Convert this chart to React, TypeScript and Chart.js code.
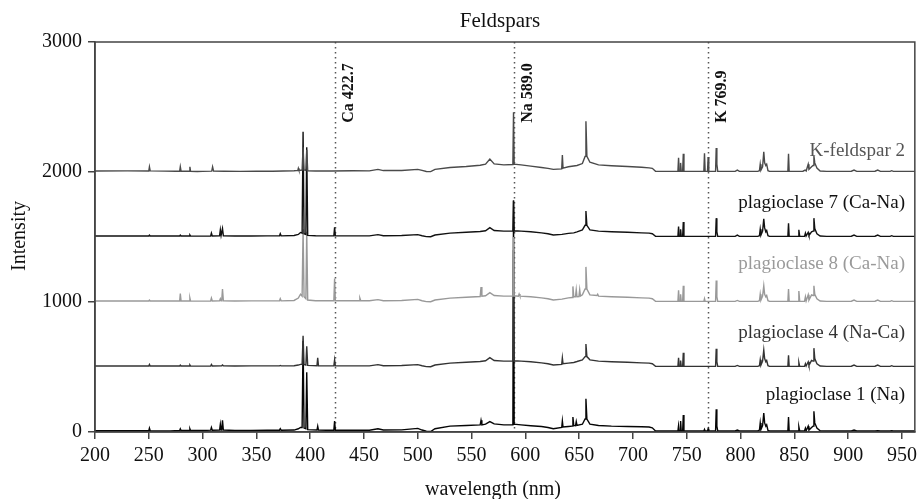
import React, { useEffect, useRef } from 'react';
import { Chart, registerables } from 'chart.js';

Chart.register(...registerables);

// ---------- data ----------
const seriesNames = [
  'K-feldspar 2',
  'plagioclase 7 (Ca-Na)',
  'plagioclase 8 (Ca-Na)',
  'plagioclase 4 (Na-Ca)',
  'plagioclase 1 (Na)',
];
const seriesOffsets = [2000, 1500, 1000, 500, 0];

const xTicks = [200, 250, 300, 350, 400, 450, 500, 550, 600, 650, 700, 750, 800, 850, 900, 950];
const yTicks = [0, 1000, 2000, 3000];

const emissionLines = [422.7, 589.0, 769.9];
const emissionLabels = ['Ca 422.7', 'Na 589.0', 'K 769.9'];

// [wavelength nm, intensity above the series offset]
const kFeldspar2: [number, number][] = [
  [200, 8], [230, 9], [250, 8], [250.6, 40], [251.3, 9], [265, 7], [275, 6], [278.7, 6], [279.3, 40], [280, 6],
  [287.7, 6], [288.2, 40], [288.8, 6], [295, 4], [300, 5], [308.5, 7], [309.3, 40], [310.2, 7], [320, 6], [335, 5],
  [350, 7], [365, 6], [375, 8], [385, 10], [388.5, 12], [389, 28], [389.6, 12], [392.5, 15], [393.4, 190], [394.3, 15],
  [396, 12], [396.8, 170], [397.7, 10], [405, 8], [420, 8], [440, 10], [455, 9], [463, 20], [468, 11], [485, 12],
  [500, 20], [504, 12], [508, 4], [512, 3], [516, 20], [530, 35], [545, 42], [558, 52], [563, 60], [567, 100],
  [571, 62], [580, 55], [588.4, 58], [589, 460], [589.6, 60], [596, 55], [605, 45], [615, 35], [621, 28], [626, 20],
  [633.8, 24], [634.4, 130], [635, 30], [640, 40], [648, 50], [653, 65], [655.5, 120], [656.3, 390], [657.2, 120], [660, 75],
  [668, 55], [680, 48], [695, 42], [708, 37], [715, 32], [718, 28], [721, 5], [741.8, 5], [742.4, 110], [743, 5],
  [743.8, 5], [744.3, 70], [744.9, 5], [746.2, 5], [746.8, 140], [747.4, 5], [765.9, 5], [766.5, 145], [767.1, 5], [769.3, 5],
  [769.9, 115], [770.5, 5], [776.8, 5], [777.4, 185], [778, 60], [778.8, 5], [795, 5], [797, 15], [799, 5], [816, 5],
  [817.6, 10], [818.3, 60], [819, 15], [820.5, 40], [821.6, 155], [822.4, 70], [823.5, 50], [824.3, 60], [825.5, 10], [827, 5],
  [844, 5], [844.6, 140], [845.2, 5], [858, 6], [860, 15], [861, 8], [862.9, 60], [863.6, 20], [866, 40], [867.4, 50],
  [868.2, 125], [869, 70], [871, 30], [874, 8], [880, 5], [903, 6], [905.5, 15], [908, 5], [925, 6], [927.5, 15],
  [930, 5], [939, 5], [940.5, 10], [942, 5], [962, 5],
];

const plagioclase7: [number, number][] = [
  [200, 8], [250, 8], [250.6, 15], [251.3, 8], [278.7, 8], [279.3, 15], [280, 8], [287.7, 8], [288.2, 15], [288.8, 8],
  [300, 7], [307.5, 8], [308.2, 30], [309, 8], [315.8, 10], [316.5, 55], [317.2, 12], [317.8, 12], [318.5, 65], [319.3, 10],
  [330, 8], [345, 8], [360, 9], [371.5, 9], [372.2, 25], [373, 9], [385, 12], [389, 20], [391, 35], [392.5, 30],
  [393.4, 810], [394.3, 25], [396, 20], [396.8, 690], [397.7, 12], [405, 10], [422, 9], [422.7, 75], [423.4, 9], [440, 9],
  [455, 9], [463, 18], [468, 10], [485, 12], [500, 18], [504, 10], [508, 3], [512, 2], [516, 15], [530, 30],
  [545, 36], [558, 42], [563, 48], [567, 72], [571, 50], [580, 45], [588.4, 45], [589, 280], [589.6, 48], [596, 45],
  [605, 40], [615, 32], [621, 25], [626, 15], [634, 20], [640, 28], [645, 32], [648, 40], [653, 55], [655.5, 90],
  [656.3, 200], [657.2, 90], [660, 55], [668, 45], [680, 40], [695, 36], [708, 32], [715, 30], [718, 25], [721, 5],
  [741.8, 5], [742.4, 80], [743, 5], [743.8, 5], [744.3, 60], [744.9, 5], [746.2, 5], [746.8, 115], [747.4, 5], [776.8, 5],
  [777.4, 145], [778, 40], [778.8, 5], [795, 5], [797, 15], [799, 5], [816, 5], [817.6, 10], [818.3, 60], [819, 15],
  [820.5, 45], [821.6, 140], [822.4, 70], [823.5, 40], [824.3, 50], [825.5, 10], [827, 5], [844, 5], [844.6, 105], [845.2, 5],
  [853.5, 5], [854.2, 55], [855, 5], [859.5, 6], [860.3, 30], [861, 8], [862.9, 35], [863.6, 12], [866, 40], [867.4, 45],
  [868.2, 145], [869, 65], [871, 25], [874, 8], [880, 5], [903, 6], [905.5, 15], [908, 5], [925, 6], [927.5, 15],
  [930, 5], [939, 5], [940.5, 10], [942, 5], [962, 5],
];

const plagioclase8: [number, number][] = [
  [200, 8], [250, 8], [250.6, 15], [251.3, 8], [278.7, 8], [279.3, 65], [280, 8], [287.7, 8], [288.2, 30], [288.8, 8],
  [300, 7], [307.5, 8], [308.2, 30], [309, 8], [315.8, 10], [316.5, 25], [317.2, 10], [317.8, 12], [318.5, 100], [319.3, 10],
  [330, 8], [345, 9], [360, 9], [371.5, 9], [372.2, 25], [373, 9], [385, 12], [389, 30], [391, 60], [392.5, 45],
  [393.4, 560], [394.3, 40], [396, 25], [396.8, 540], [397.7, 15], [405, 10], [422, 10], [422.7, 180], [423.4, 10], [435, 10],
  [445.5, 10], [446.2, 30], [447, 10], [455, 10], [463, 18], [468, 10], [485, 12], [500, 20], [504, 10], [508, 3],
  [512, 2], [516, 15], [530, 30], [545, 36], [558, 42], [558.8, 115], [559.6, 44], [563, 48], [567, 72], [571, 50],
  [580, 45], [588.4, 45], [589, 500], [589.6, 48], [593.5, 45], [594.2, 62], [595, 45], [605, 40], [615, 32], [621, 25],
  [626, 15], [634, 22], [640, 32], [643.5, 35], [644.2, 120], [645, 40], [646.6, 40], [647.3, 95], [648, 40], [649.8, 42],
  [650.5, 95], [651.2, 45], [653, 55], [655.5, 100], [656.3, 270], [657.2, 100], [660, 55], [666.5, 50], [667.2, 60], [668, 45],
  [680, 40], [695, 36], [708, 32], [715, 30], [718, 25], [721, 5], [741.8, 5], [742.4, 90], [743, 5], [743.8, 5],
  [744.3, 60], [744.9, 5], [746.2, 5], [746.8, 125], [747.4, 5], [765.9, 5], [766.5, 25], [767.1, 5], [776.8, 5], [777.4, 165],
  [778, 40], [778.8, 5], [795, 5], [797, 12], [799, 5], [816, 5], [817.6, 10], [818.3, 60], [819, 15], [820.5, 45],
  [821.6, 125], [822.4, 60], [823.5, 40], [824.3, 50], [825.5, 10], [827, 5], [844, 5], [844.6, 100], [845.2, 5], [853.5, 5],
  [854.2, 85], [855, 5], [859.5, 6], [860.3, 40], [861, 8], [862.9, 55], [863.6, 15], [866, 55], [867.4, 50], [868.2, 125],
  [869, 60], [871, 25], [874, 8], [880, 5], [903, 6], [905.5, 15], [908, 5], [925, 6], [927.5, 15], [930, 5],
  [939, 5], [940.5, 10], [942, 5], [962, 5],
];

const plagioclase4: [number, number][] = [
  [200, 8], [250, 8], [250.6, 20], [251.3, 8], [278.7, 8], [279.3, 15], [280, 8], [287.7, 8], [288.2, 15], [288.8, 8],
  [300, 7], [307.5, 8], [308.2, 20], [309, 8], [317.8, 9], [318.5, 15], [319.3, 9], [330, 8], [345, 9], [360, 9],
  [371.5, 9], [372.2, 12], [373, 9], [385, 10], [389, 15], [391, 20], [392.5, 20], [393.4, 240], [394.3, 20], [396, 15],
  [396.8, 160], [397.7, 12], [406.3, 10], [407, 70], [407.7, 10], [415, 9], [422, 9], [422.7, 55], [423.4, 9], [440, 9],
  [455, 9], [463, 18], [468, 10], [485, 12], [500, 18], [504, 10], [508, 3], [512, 2], [516, 15], [530, 30],
  [545, 36], [558, 42], [563, 48], [567, 72], [571, 50], [580, 45], [588.4, 45], [589, 900], [589.6, 48], [596, 45],
  [605, 40], [615, 32], [621, 25], [626, 15], [633.8, 20], [634.4, 70], [635, 25], [640, 30], [645, 35], [648, 42],
  [653, 55], [655.5, 80], [656.3, 177], [657.2, 80], [660, 55], [668, 45], [680, 40], [695, 36], [708, 32], [715, 30],
  [718, 25], [721, 5], [741.8, 5], [742.4, 70], [743, 5], [743.8, 5], [744.3, 50], [744.9, 5], [746.2, 5], [746.8, 110],
  [747.4, 5], [776.8, 5], [777.4, 140], [778, 40], [778.8, 5], [795, 5], [797, 12], [799, 5], [816, 5], [817.6, 10],
  [818.3, 55], [819, 15], [820.5, 45], [821.6, 130], [822.4, 65], [823.5, 40], [824.3, 50], [825.5, 10], [827, 5], [844, 5],
  [844.6, 90], [845.2, 5], [853.5, 5], [854.2, 35], [855, 5], [859.5, 6], [860.3, 25], [861, 8], [862.9, 40], [863.6, 12],
  [866, 50], [867.4, 45], [868.2, 145], [869, 65], [871, 25], [874, 8], [880, 5], [903, 6], [905.5, 15], [908, 5],
  [925, 6], [927.5, 15], [930, 5], [939, 5], [940.5, 10], [942, 5], [962, 5],
];

const plagioclase1: [number, number][] = [
  [200, 10], [250, 10], [250.6, 30], [251.3, 10], [270, 9], [278.7, 12], [279.3, 25], [280, 12], [287.7, 12], [288.2, 25],
  [288.8, 12], [300, 12], [307.5, 14], [308.2, 35], [309, 14], [315.8, 15], [316.5, 60], [317.2, 15], [317.8, 18], [318.5, 90],
  [319.3, 15], [330, 12], [345, 12], [360, 13], [371.5, 14], [372.2, 25], [373, 14], [385, 15], [389, 25], [391, 35],
  [392.5, 35], [393.4, 700], [394.3, 30], [396, 25], [396.8, 460], [397.7, 18], [406.3, 15], [407, 45], [407.7, 15], [415, 14],
  [422, 14], [422.7, 85], [423.4, 14], [440, 13], [455, 14], [463, 25], [468, 15], [485, 16], [500, 28], [504, 15],
  [508, 6], [512, 4], [516, 25], [530, 45], [545, 50], [558, 55], [558.8, 90], [559.6, 55], [563, 60], [567, 80],
  [571, 62], [580, 55], [588.4, 55], [589, 1780], [589.6, 60], [596, 55], [605, 48], [615, 42], [621, 35], [626, 25],
  [633.8, 35], [634.4, 85], [635, 38], [640, 42], [643.5, 45], [644.2, 115], [645, 50], [646.6, 48], [647.3, 80], [648, 50],
  [653, 60], [655.5, 100], [656.3, 255], [657.2, 100], [660, 60], [668, 50], [680, 45], [695, 42], [708, 40], [715, 38],
  [718, 32], [721, 8], [741.8, 8], [742.4, 50], [743, 8], [743.8, 8], [744.3, 85], [744.9, 8], [746.2, 8], [746.8, 130],
  [747.4, 8], [765.9, 8], [766.5, 20], [767.1, 8], [769.3, 8], [769.9, 25], [770.5, 8], [776.8, 8], [777.4, 175], [778, 45],
  [778.8, 8], [795, 8], [797, 15], [799, 8], [816, 8], [817.6, 15], [818.3, 70], [819, 20], [820.5, 50], [821.6, 145],
  [822.4, 70], [823.5, 45], [824.3, 55], [825.5, 12], [827, 8], [844, 8], [844.6, 115], [845.2, 8], [853.5, 8], [854.2, 40],
  [855, 8], [859.5, 9], [860.3, 30], [861, 10], [862.9, 45], [863.6, 15], [866, 35], [867.4, 45], [868.2, 160], [869, 70],
  [871, 30], [874, 10], [880, 8], [903, 8], [905.5, 15], [908, 8], [925, 8], [927.5, 10], [930, 8], [939, 8],
  [940.5, 10], [942, 8], [962, 8],
];

// ---------- styling ----------
const seriesColors = ['#4a4a4a', '#111111', '#999999', '#333333', '#050505'];
const labelColors = ['#555555', '#111111', '#9a9a9a', '#333333', '#111111'];
const labelValues = [2120, 1720, 1255, 725, 247];
const SERIF = "'Liberation Serif', 'Times New Roman', serif";

export default function App() {
  const ref = useRef<HTMLCanvasElement>(null);

  useEffect(() => {
    if (!ref.current) return;
    const all = [kFeldspar2, plagioclase7, plagioclase8, plagioclase4, plagioclase1];
    const datasets = all.map((s, i) => ({
      label: seriesNames[i],
      data: s.map(([x, y]) => ({ x, y: y + seriesOffsets[i] })),
      borderColor: seriesColors[i],
      borderWidth: 1.4,
      pointRadius: 0,
      tension: 0,
      fill: false,
    }));

    const overlay = {
      id: 'overlay',
      beforeDatasetsDraw(chart: any) {
        const { ctx, chartArea, scales } = chart;
        ctx.save();
        ctx.strokeStyle = '#555';
        ctx.lineWidth = 1.5;
        ctx.setLineDash([1.6, 3.4]);
        emissionLines.forEach((w) => {
          const x = Math.round(scales.x.getPixelForValue(w)) + 0.5;
          ctx.beginPath();
          ctx.moveTo(x, chartArea.top);
          ctx.lineTo(x, chartArea.bottom);
          ctx.stroke();
        });
        ctx.restore();
      },
      afterDraw(chart: any) {
        const { ctx, chartArea, scales } = chart;
        ctx.save();
        // frame
        ctx.strokeStyle = '#444';
        ctx.lineWidth = 1.5;
        ctx.strokeRect(chartArea.left, chartArea.top, chartArea.right - chartArea.left, chartArea.bottom - chartArea.top);

        // title
        ctx.fillStyle = '#111';
        ctx.font = `21px ${SERIF}`;
        ctx.textAlign = 'center';
        ctx.textBaseline = 'alphabetic';
        ctx.fillText('Feldspars', 500, 27);

        // x axis title
        ctx.font = `20px ${SERIF}`;
        ctx.fillText('wavelength (nm)', 493, 495);

        // y axis title
        ctx.save();
        ctx.translate(25, 236);
        ctx.rotate(-Math.PI / 2);
        ctx.textBaseline = 'alphabetic';
        ctx.fillText('Intensity', 0, 0);
        ctx.restore();

        // series labels
        ctx.font = `19px ${SERIF}`;
        ctx.textAlign = 'right';
        seriesNames.forEach((n, i) => {
          ctx.fillStyle = labelColors[i];
          ctx.fillText(n, 905, scales.y.getPixelForValue(labelValues[i]));
        });

        // emission line labels
        ctx.font = `bold 16px ${SERIF}`;
        ctx.fillStyle = '#111';
        emissionLabels.forEach((t, i) => {
          const x = scales.x.getPixelForValue(emissionLines[i]) + 14;
          ctx.save();
          ctx.translate(x, scales.y.getPixelForValue(2378));
          ctx.rotate(-Math.PI / 2);
          ctx.textAlign = 'left';
          ctx.textBaseline = 'middle';
          ctx.fillText(t, 0, 0);
          ctx.restore();
        });
        ctx.restore();
      },
    };

    const chart = new Chart(ref.current, {
      type: 'line',
      data: { datasets },
      options: {
        animation: false,
        responsive: false,
        parsing: false as any,
        normalized: true,
        layout: { padding: { top: 42, right: 5, left: 0, bottom: 0 } },
        plugins: { legend: { display: false }, tooltip: { enabled: false }, title: { display: false } },
        scales: {
          x: {
            type: 'linear',
            min: 200,
            max: 962,
            afterBuildTicks: (s: any) => {
              s.ticks = xTicks.map((v) => ({ value: v }));
            },
            afterFit: (s: any) => {
              s.height = 67;
            },
            ticks: {
              font: { size: 20, family: SERIF },
              color: '#111',
              padding: 5,
              maxRotation: 0,
              autoSkip: false,
              callback: (v: any) => String(v),
            },
            grid: { drawOnChartArea: false, drawTicks: true, tickLength: 7, color: '#444', lineWidth: 1.5 },
            border: { color: '#444', width: 1.5 },
          },
          y: {
            type: 'linear',
            min: 0,
            max: 3000,
            afterBuildTicks: (s: any) => {
              s.ticks = yTicks.map((v) => ({ value: v }));
            },
            afterFit: (s: any) => {
              s.width = 95;
            },
            ticks: {
              font: { size: 20, family: SERIF },
              color: '#111',
              padding: 6,
              autoSkip: false,
              callback: (v: any) => String(v),
            },
            grid: { drawOnChartArea: false, drawTicks: true, tickLength: 7, color: '#444', lineWidth: 1.5 },
            border: { color: '#444', width: 1.5 },
          },
        },
      },
      plugins: [overlay],
    });
    return () => chart.destroy();
  }, []);

  return (
    <div style={{ position: 'fixed', left: 0, top: 0, width: 922, height: 499, background: '#fff' }}>
      <canvas ref={ref} width={922} height={499} style={{ display: 'block' }} />
    </div>
  );
}
